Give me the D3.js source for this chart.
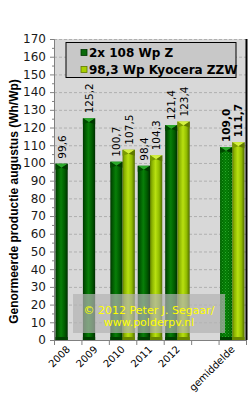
<!DOCTYPE html>
<html>
<head>
<meta charset="utf-8">
<script src="https://cdn.jsdelivr.net/npm/d3@7"></script>
<style>
  html, body { margin: 0; padding: 0; background: #fff; }
  svg { display: block; }
</style>
</head>
<body>
<div id="chart"></div>
<script>
'use strict';
// data
var categories = ['2008', '2009', '2010', '2011', '2012', '', 'gemiddelde'];
var seriesNames = ['2x 108 Wp Z', '98,3 Wp Kyocera ZZW'];
var valuesZ = [99.6, 125.2, 100.7, 98.4, 121.4, null, 109.0];
var valuesK = [null, null, 107.5, 104.3, 123.4, null, 111.7];
var yTicks = d3.range(0, 171, 10);
var yTitle = 'Genormeerde productie augustus (Wh/Wp)';
var credit = ['\u00a9 2012 Peter J. Segaar/', 'www.polderpv.nl'];

var width = 251, height = 398,
    margin = {top: 39, right: 5, bottom: 58, left: 54};

var svg = d3.select('#chart').append('svg')
  .attr('width', width).attr('height', height);

var defs = svg.append('defs');
function hGrad(id, stops) {
  var g = defs.append('linearGradient').attr('id', id)
    .attr('x1', '0%').attr('x2', '100%').attr('y1', '0%').attr('y2', '0%');
  stops.forEach(function(s) {
    g.append('stop').attr('offset', s[0]).attr('stop-color', s[1]);
  });
}
hGrad('gZ', [['0%', '#003400'], ['15%', '#005400'], ['45%', '#087f08'], ['75%', '#005c00'], ['100%', '#002e00']]);
hGrad('gK', [['0%', '#5c7a00'], ['15%', '#88b000'], ['45%', '#b8e010'], ['75%', '#90bb00'], ['100%', '#4f6a00']]);

var pat = defs.append('pattern').attr('id', 'dots')
  .attr('width', 3).attr('height', 3).attr('patternUnits', 'userSpaceOnUse');
pat.append('rect').attr('width', 3).attr('height', 3).attr('fill', '#007a00');
pat.append('rect').attr('x', 0).attr('y', 0).attr('width', 1).attr('height', 1).attr('fill', '#3fbf3f');
pat.append('rect').attr('x', 1.5).attr('y', 1.5).attr('width', 1).attr('height', 1).attr('fill', '#2aa82a');

var x0 = d3.scaleBand().domain(categories)
  .range([margin.left, width - margin.right]).padding(0);
var x1 = d3.scaleBand().domain([0, 1])
  .range([0, x0.bandwidth()]).paddingOuter(0.12).paddingInner(0);
var y = d3.scaleLinear().domain([0, 170])
  .range([height - margin.bottom, margin.top]);

var plotL = margin.left, plotR = width - margin.right,
    plotT = margin.top, plotB = height - margin.bottom;

// plot background
svg.append('rect')
  .attr('x', plotL).attr('y', plotT)
  .attr('width', plotR - plotL).attr('height', plotB - plotT)
  .attr('fill', '#d8d8d8');

// grid
svg.append('g').selectAll('line')
  .data(yTicks.filter(function(t) { return t > 0; }))
  .enter().append('line')
  .attr('x1', plotL).attr('x2', plotR)
  .attr('y1', function(d) { return y(d) + 0.5; })
  .attr('y2', function(d) { return y(d) + 0.5; })
  .attr('stroke', '#b0b0b0').attr('stroke-dasharray', '3,2');

// right border
svg.append('line')
  .attr('x1', plotR + 0.5).attr('x2', plotR + 0.5)
  .attr('y1', plotT).attr('y2', plotB)
  .attr('stroke', '#000').attr('stroke-width', 2);

// bars
var bars = [];
categories.forEach(function(c, i) {
  [valuesZ[i], valuesK[i]].forEach(function(v, s) {
    if (v !== null) bars.push({cat: c, s: s, v: v, avg: c === 'gemiddelde'});
  });
});

var barG = svg.append('g');
bars.forEach(function(d) {
  var bx = x0(d.cat) + x1(d.s), bw = x1.bandwidth(), top = y(d.v);
  var g = barG.append('g');
  g.append('rect')
    .attr('x', bx).attr('y', top)
    .attr('width', bw).attr('height', y(0) - top)
    .attr('fill', d.avg && d.s === 0 ? 'url(#dots)' : (d.s === 0 ? 'url(#gZ)' : 'url(#gK)'));
  if (d.avg && d.s === 0) {
    g.append('rect')
      .attr('x', bx).attr('y', top).attr('width', bw).attr('height', y(0) - top)
      .attr('fill', 'url(#gZ)').attr('opacity', 0.35);
  }
  // bevelled top
  var capH = 4;
  g.append('path')
    .attr('d', 'M' + bx + ',' + top + 'L' + (bx + bw) + ',' + top +
      'L' + (bx + bw / 2) + ',' + (top + capH) + 'Z')
    .attr('fill', d.s === 0 ? '#2aa82a' : '#d4f040');
  g.append('path')
    .attr('d', 'M' + bx + ',' + top + 'L' + (bx + bw / 2) + ',' + (top + capH) +
      'L' + bx + ',' + (top + capH + 2) + 'Z')
    .attr('fill', d.s === 0 ? '#004a00' : '#7a9a00');
  g.append('path')
    .attr('d', 'M' + (bx + bw) + ',' + top + 'L' + (bx + bw / 2) + ',' + (top + capH) +
      'L' + (bx + bw) + ',' + (top + capH + 2) + 'Z')
    .attr('fill', d.s === 0 ? '#003800' : '#5f7800');
  // bottom edge
  g.append('rect')
    .attr('x', bx).attr('y', y(0) - 3).attr('width', bw).attr('height', 3)
    .attr('fill', d.s === 0 ? '#004000' : '#6a8800');

  // value label
  var lx = bx + bw / 2 + 4, ly = top - 5;
  g.append('text')
    .attr('transform', 'translate(' + lx + ',' + ly + ') rotate(-90)')
    .attr('text-anchor', 'start')
    .style('font-family', 'DejaVu Sans, Verdana, sans-serif')
    .style('font-size', '10.5px')
    .style('font-weight', d.avg ? 'bold' : 'normal')
    .attr('fill', '#000')
    .text(d3.format('.1f')(d.v).replace('.', ','));
});

// y axis
var yAxis = svg.append('g')
  .attr('transform', 'translate(' + plotL + ',0)')
  .call(d3.axisLeft(y).tickValues(yTicks).tickSize(4).tickPadding(4));
yAxis.select('.domain').attr('stroke', '#808080');
yAxis.selectAll('.tick line').attr('stroke', '#808080');
yAxis.selectAll('text')
  .style('font-family', 'DejaVu Sans, Verdana, sans-serif')
  .style('font-size', '12px').attr('fill', '#1a1a1a');
svg.append('g').selectAll('line')
  .data(d3.range(5, 170, 10)).enter().append('line')
  .attr('x1', plotL - 2).attr('x2', plotL)
  .attr('y1', function(d) { return y(d) + 0.5; })
  .attr('y2', function(d) { return y(d) + 0.5; })
  .attr('stroke', '#808080');

// x axis
var xAxisG = svg.append('g').attr('transform', 'translate(0,' + plotB + ')');
xAxisG.append('line')
  .attr('x1', plotL).attr('x2', plotR + 1)
  .attr('y1', 0.5).attr('y2', 0.5).attr('stroke', '#808080');
xAxisG.selectAll('.tk')
  .data(categories.map(function(c) { return x0(c); }).concat([plotR]))
  .enter().append('line')
  .attr('x1', function(d) { return d + 0.5; }).attr('x2', function(d) { return d + 0.5; })
  .attr('y1', 0).attr('y2', 5).attr('stroke', '#808080');
xAxisG.selectAll('.lbl')
  .data(categories.filter(function(c) { return c !== ''; }))
  .enter().append('text')
  .attr('transform', function(c) {
    return 'translate(' + (x0(c) + x0.bandwidth() / 2 + 3) + ',10) rotate(-45)';
  })
  .attr('text-anchor', 'end')
  .style('font-family', 'DejaVu Sans, Verdana, sans-serif')
  .style('font-size', '10px')
  .attr('fill', '#000')
  .text(function(c) { return c; });

// y title
svg.append('text')
  .attr('transform', 'translate(18,' + ((plotT + plotB) / 2 + 12) + ') rotate(-90)')
  .attr('text-anchor', 'middle')
  .style('font-family', 'Liberation Sans, Arial, sans-serif')
  .style('font-size', '12px').style('font-weight', 'bold')
  .attr('fill', '#000')
  .text(yTitle);

// legend
var leg = svg.append('g').attr('transform', 'translate(66,42.5)');
leg.append('rect').attr('width', 170).attr('height', 35)
  .attr('fill', '#c8c8c8').attr('stroke', '#000').attr('stroke-width', 1);
seriesNames.forEach(function(n, i) {
  var ly = 10 + i * 17;
  leg.append('rect').attr('x', 15).attr('y', ly - 3).attr('width', 6).attr('height', 6)
    .attr('fill', i === 0 ? '#0a6a0a' : '#a8d000')
    .attr('stroke', i === 0 ? '#003300' : '#5f7800').attr('stroke-width', 0.8);
  leg.append('text').attr('x', 23).attr('y', ly + 4.5)
    .style('font-family', 'DejaVu Sans, Verdana, sans-serif')
    .style('font-size', '12px').style('font-weight', 'bold')
    .attr('fill', '#000').text(n);
});

// credit box
var cr = svg.append('g');
cr.append('rect').attr('x', 73).attr('y', 294).attr('width', 152).attr('height', 39)
  .attr('fill', '#b4b4b4').attr('opacity', 0.7);
credit.forEach(function(t, i) {
  cr.append('text').attr('x', 149).attr('y', 314 + i * 12)
    .attr('text-anchor', 'middle')
    .style('font-family', 'DejaVu Sans, Verdana, sans-serif')
    .style('font-size', '11px')
    .attr('fill', '#ffff00').text(t);
});
</script>
</body>
</html>
